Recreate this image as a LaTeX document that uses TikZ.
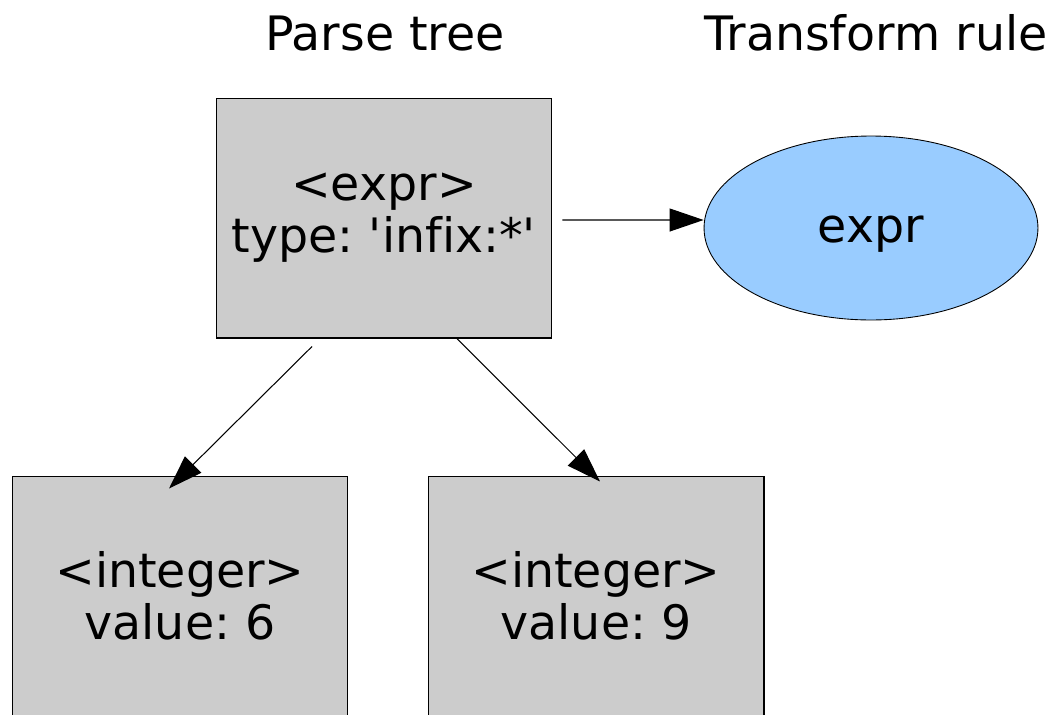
\documentclass[tikz,border=0pt]{standalone}
\usepackage{fontspec}
\setmainfont{DejaVu Sans}[Ligatures=NoCommon]
\usetikzlibrary{arrows.meta,shapes.geometric}

\definecolor{ruleblue}{HTML}{99CCFF}
\frenchspacing

\begin{document}
\begin{tikzpicture}[x=0.02cm, y=-0.02cm,
    treenode/.style={draw=black, line width=0.6pt, fill=black!20,
        minimum width=6.72cm, minimum height=4.8cm, inner sep=0pt,
        align=center, font=\fontsize{27}{29.5}\selectfont},
    rulenode/.style={ellipse, draw=black, line width=0.5pt, fill=ruleblue,
        minimum width=6.68cm, minimum height=3.68cm, inner sep=0pt,
        text height=17pt, text depth=0pt,
        font=\fontsize{27}{29.5}\selectfont},
    heading/.style={anchor=base, font=\fontsize{27}{29.5}\selectfont},
    link/.style={line width=0.6pt, -{Triangle[length=0.68cm, width=0.46cm]}}]

    \useasboundingbox (0,0) rectangle (1055,714);

    \node[heading] (treehead) at (385,50) {Parse tree};
    \node[heading] (rulehead) at (876,50) {Transform rule};

    \node[treenode] (expr) at (384,218) {<expr>\\type: \textquotesingle infix:*\textquotesingle};
    \node[treenode] (left) at (180,596) {<integer>\\value: 6};
    \node[treenode] (right) at (596,596) {<integer>\\value: 9};

    \node[rulenode] (rule) at (871,228) {expr};

    \draw[link] ([xshift=0.2cm, yshift=-0.04cm]expr.east) -- (rule.west |- 0,220);
    \draw[link] ([xshift=-1.44cm, yshift=-0.16cm]expr.south) -- ([xshift=-0.22cm, yshift=-0.26cm]left.north);
    \draw[link] ([xshift=1.46cm]expr.south) -- ([xshift=0.08cm, yshift=-0.12cm]right.north);
\end{tikzpicture}
\end{document}
